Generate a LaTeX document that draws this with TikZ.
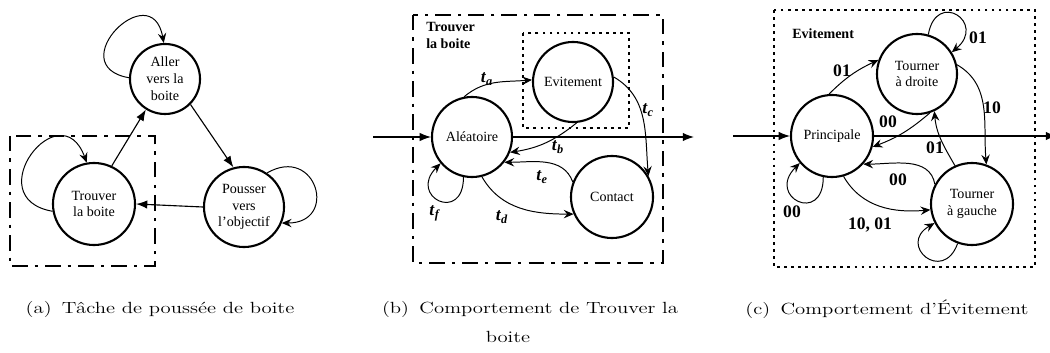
\documentclass[tikz,border=0pt]{standalone}
\usepackage{fontspec}
\setmainfont{Liberation Serif}
\newfontfamily\legendefont{Latin Modern Roman}
\usetikzlibrary{arrows.meta,positioning}

\tikzset{
  etat/.style={circle, draw, line width=1.5pt, minimum size=2cm, inner sep=0pt,
    align=center, font=\fontsize{10}{12}\selectfont},
  trans/.style={-{Stealth[length=7pt,width=6pt,inset=2.5pt]}, line width=0.7pt},
  entree/.style={-{Latex[length=8pt,width=6pt]}, line width=0.8pt},
  lbl/.style={font=\fontsize{12.5}{14}\selectfont\bfseries, inner sep=0pt},
  cadredd/.style={line width=2pt, dash pattern=on 11pt off 5pt on 2.5pt off 5pt},
  cadrept/.style={line width=2pt, dash pattern=on 2pt off 3pt},
  titre/.style={font=\fontsize{10}{12}\selectfont\bfseries, align=left,
    anchor=north west, inner sep=0pt},
  legende/.style={font=\legendefont\fontsize{11.5}{14}\selectfont, inner sep=0pt,
    xscale=1.28, transform shape}
}
\newcommand{\tlbl}[1]{\textit{t}\textsubscript{\textit{#1}}}

\begin{document}
\begin{tikzpicture}[x=0.025cm, y=0.025cm]
	\useasboundingbox (0,0) rectangle (1050,-353);

	% (a) tache de poussee de boite
	\node[etat, minimum size=1.75cm] (aller) at (165,-79) {Aller\\vers la\\boite};
	\node[etat, minimum size=2.05cm] (trouver) at (94,-204) {Trouver\\la boite};
	\node[etat] (pousser) at (244,-207) {Pousser\\vers\\l'objectif};
	\draw[cadredd] (10,-136) rectangle (155,-266);

	\draw[entree] (trouver.65) -- (aller.238);
	\draw[entree] (aller.-45) -- (pousser.105);
	\draw[entree] (pousser.west) -- (trouver.east);
	\draw[trans] (aller.178) to[out=170,in=100,looseness=3.6] (aller.92);
	\draw[trans] (trouver.190) to[out=170,in=110,looseness=3.3] (trouver.100);
	\draw[trans] (pousser.56) to[out=30,in=0,looseness=2.8] (pousser.-23);

	% (b) trouver la boite
	\node[etat] (alea) at (472,-137) {Aléatoire};
	\node[etat] (evit) at (573,-82) {Evitement};
	\node[etat, minimum size=2.05cm] (contact) at (612,-197) {Contact};
	\draw[cadredd] (413,-15) rectangle (663,-263);
	\draw[cadrept] (523,-33) rectangle (629,-128);
	\node[titre] (titreb) at (426,-22) {Trouver\\la boite};

	\coordinate (inb) at (373,-137);
	\coordinate (outb) at (694,-137);
	\draw[entree] (inb) -- (alea);
	\draw[entree] (alea) -- (outb);

	\draw[trans] (alea.101) to[out=40,in=185] (evit.177);
	\draw[trans] (evit.-85) to[bend left=15] (alea.-22);
	\draw[trans] (evit.7) to[out=-30,in=95] (contact.30);
	\draw[trans] (alea.-76) to[out=-60,in=180] (contact.204);
	\draw[trans] (contact.159) to[out=110,in=0] (alea.-38);
	\draw[trans] (alea.-102) to[out=-90,in=225,looseness=4.5] (alea.220);

	\node[lbl] (ta) at (487,-79) {\tlbl{a}};
	\node[lbl] (tb) at (558,-147) {\tlbl{b}};
	\node[lbl] (tc) at (648,-110) {\tlbl{c}};
	\node[lbl] (td) at (502,-217) {\tlbl{d}};
	\node[lbl] (te) at (542,-177) {\tlbl{e}};
	\node[lbl] (tf) at (435,-213) {\tlbl{f}};

	% (c) evitement
	\node[etat, minimum size=2.05cm] (princ) at (832,-136) {Principale};
	\node[etat] (tdroite) at (917,-74) {Tourner\\à droite};
	\node[etat, minimum size=2.05cm] (tgauche) at (972,-204) {Tourner\\à gauche};
	\draw[cadrept] (774,-10) rectangle (1035,-267);
	\node[titre] (titrec) at (792,-28) {Evitement};

	\coordinate (inc) at (733,-136);
	\coordinate (outc) at (1057,-136);
	\draw[entree] (inc) -- (princ);
	\draw[entree] (princ) -- (outc);

	\draw[trans] (princ.94) to[out=45,in=205] (tdroite.160);
	\draw[trans] (tdroite.74) to[out=80,in=40,looseness=4] (tdroite.32);
	\draw[trans] (tdroite.13) to[out=-30,in=95] (tgauche.70);
	\draw[trans] (tdroite.-72) to[bend left=10] (princ.-15);
	\draw[trans] (tgauche.114) to[out=120,in=-85] (tdroite.-65);
	\draw[trans] (tgauche.152) to[out=100,in=0] (princ.-42);
	\draw[trans] (princ.-74) to[out=-60,in=185] (tgauche.188);
	\draw[trans] (princ.-102) to[out=-90,in=225,looseness=4.5] (princ.220);
	\draw[trans] (tgauche.-110) to[out=-110,in=210,looseness=3.6] (tgauche.207);

	\node[lbl] (l01a) at (842,-71) {01};
	\node[lbl] (l01b) at (978,-38) {01};
	\node[lbl] (l10) at (992,-108) {10};
	\node[lbl] (l00a) at (888,-122) {00};
	\node[lbl] (l01c) at (935,-148) {01};
	\node[lbl] (l00b) at (898,-180) {00};
	\node[lbl] (l1001) at (870,-225) {10, 01};
	\node[lbl] (l00c) at (792,-212) {00};

	% legendes
	\node[legende] (capa) at (160,-309) {(a)\enspace Tâche de poussée de boite};
	\node[legende] (capb) at (530,-309) {(b)\enspace Comportement de Trouver la};
	\node[legende] (capbb) at (508,-337) {boite};
	\node[legende] (capc) at (887,-309) {(c)\enspace Comportement d’Évitement};
\end{tikzpicture}
\end{document}
